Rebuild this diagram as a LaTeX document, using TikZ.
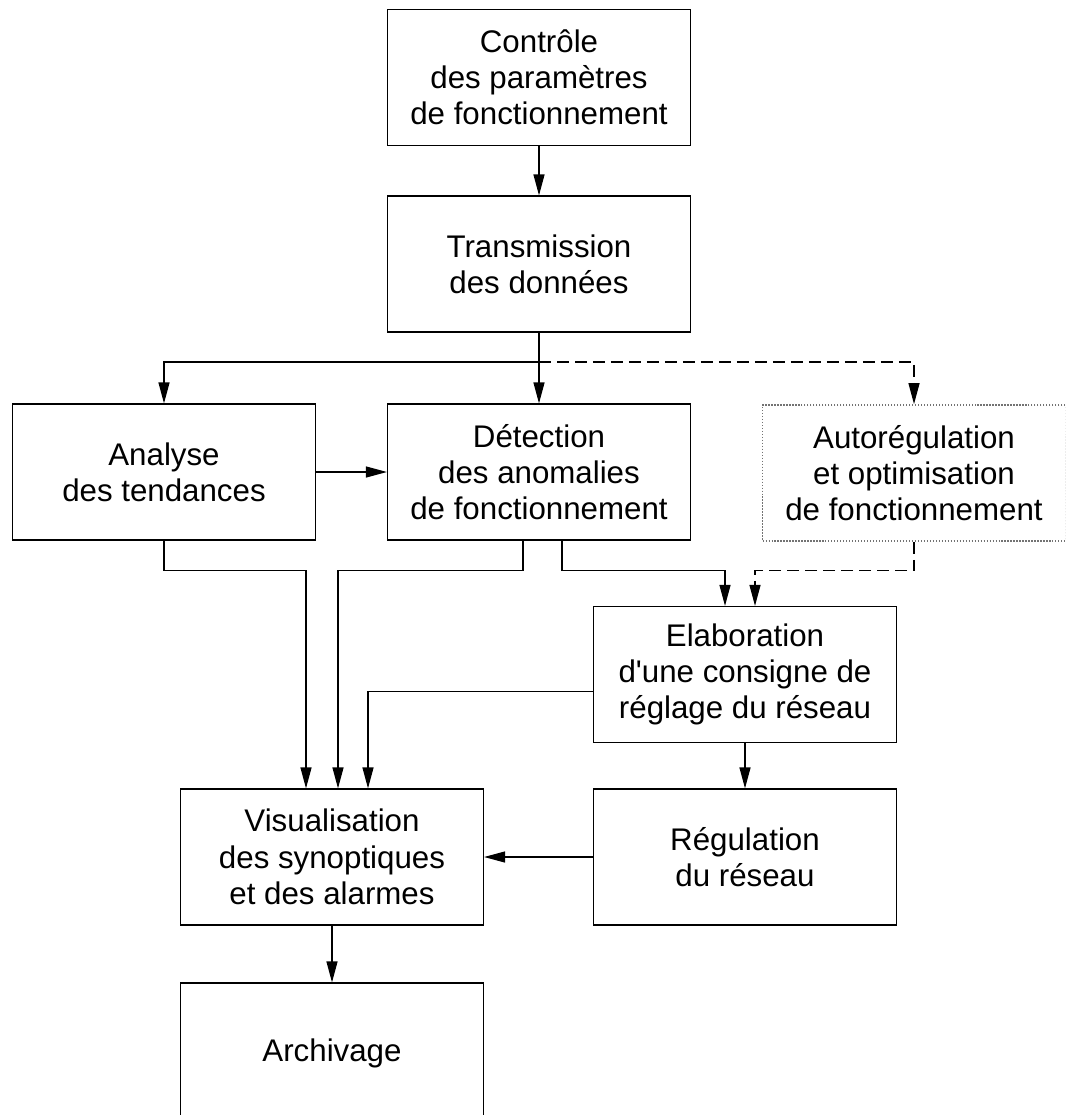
\documentclass[tikz,border=0pt]{standalone}
\usepackage{fontspec}
\setmainfont{Liberation Sans}
\usetikzlibrary{calc,arrows.meta}
\tikzset{
	bloc/.style={draw, line width=0.7pt, minimum width=6.06cm, minimum height=2.72cm, inner sep=0pt, align=center, font=\fontsize{17.8}{20.6}\selectfont},
	fleche/.style={line width=0.7pt, -{Triangle[length=0.42cm, width=0.22cm]}},
	tirets/.style={dash pattern=on 0.24cm off 0.12cm}
}

\begin{document}
\begin{tikzpicture}[x=0.02cm, y=-0.02cm]
		%%%%% START %%%%%
		\useasboundingbox (0,0) rectangle (1065,1115);
		\clip (0,0) rectangle (1065,1115);
		
		\node[bloc] (ctrl) at (539, 77.5) {Contrôle\\des paramètres\\de fonctionnement};
		\node[bloc] (trans) at (539, 264) {Transmission\\des données};
		
		\node[bloc] (anal) at (164, 472) {Analyse\\des tendances};
		\node[bloc] (detect) at (539, 472) {Détection\\des anomalies\\de fonctionnement};
		\node[bloc, draw=black!55, densely dotted, line width=1pt] (autoreg) at (914, 473) {Autorégulation\\et optimisation\\de fonctionnement};
		
		\node[bloc] (elab) at (745, 674.5) {Elaboration\\d\textquotesingle une consigne de\\réglage du réseau};
		\node[bloc] (visu) at (332, 857) {Visualisation\\des synoptiques\\et des alarmes};
		\node[bloc] (regul) at (745, 857) {Régulation\\du réseau};
		\node[bloc, minimum height=2.8cm] (archiv) at (332, 1053) {Archivage};
		
		\coordinate (split) at (539, 362);
		
		\draw[fleche] (ctrl) -- (trans);
		\draw[line width=0.7pt] (trans) -- (split);
		\draw[fleche] (split) -| (anal);
		\draw[fleche] (split) -- (detect);
		\draw[fleche, tirets] (split) -| (autoreg);
		
		\draw[fleche] (anal) -- (detect);
		
		\draw[fleche] (anal.south) -- ++(0,30) -| ($(visu.north)+(-26,0)$);
		\draw[fleche] ($(detect.south)+(-16,0)$) -- ++(0,30) -| ($(visu.north)+(6,0)$);
		\draw[fleche] ($(detect.south)+(23,0)$) -- ++(0,30) -| ($(elab.north)+(-20,0)$);
		\draw[fleche, tirets] (autoreg.south) -- ++(0,29) -| ($(elab.north)+(10,0)$);
		
		\draw[fleche] ($(elab.west)+(0,17)$) -| ($(visu.north)+(36,0)$);
		\draw[fleche] (elab) -- (regul);
		\draw[fleche] (regul) -- (visu);
		\draw[fleche] (visu) -- (archiv);
		%%%%% END %%%%%
	\end{tikzpicture}
\end{document}
